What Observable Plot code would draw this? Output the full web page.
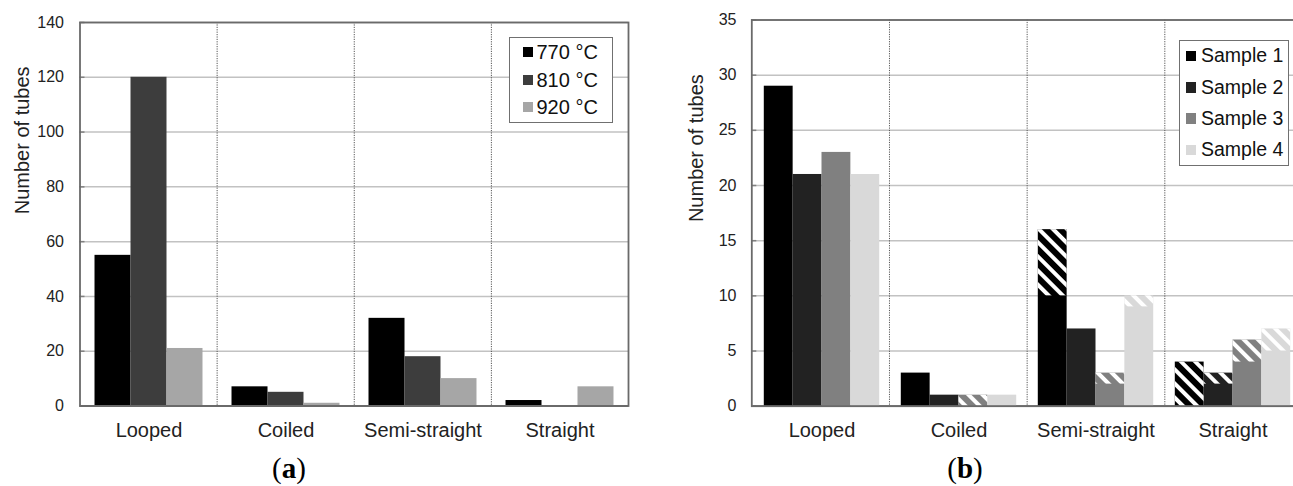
<!DOCTYPE html>
<html>
<head>
<meta charset="utf-8">
<script src="https://cdn.jsdelivr.net/npm/d3@7"></script>
<script src="https://cdn.jsdelivr.net/npm/@observablehq/plot@0.6"></script>
<style>
  html, body { margin: 0; padding: 0; background: white; }
  #page { position: relative; width: 1293px; height: 486px; overflow: hidden; background: white; font-family: "Liberation Sans", Arial, sans-serif; }
  .layer { position: absolute; top: 0; }
  .layer svg { max-width: none !important; display: block; }
  .legend { position: absolute; background: white; border: 1.5px solid #707070; box-sizing: border-box; color: #111; }
  .legend .item { position: absolute; white-space: nowrap; }
  .legend .sw { position: absolute; }
  .caption { position: absolute; font-family: "Liberation Serif", "Times New Roman", serif; font-size: 29px; line-height: 1; color: #000; text-align: center; width: 80px; }
</style>
</head>
<body>
<div id="page">
  <div id="bgA" class="layer" style="left:0px"></div>
  <div id="fgA" class="layer" style="left:0px"></div>
  <div id="bgB" class="layer" style="left:650px"></div>
  <div id="fgB" class="layer" style="left:650px"></div>
</div>
<script>
// ---------- data ----------
const categories = ["Looped", "Coiled", "Semi-straight", "Straight"];

// chart (a)
const temps = ["770 °C", "810 °C", "920 °C"];
const tempColors = ["#000000", "#3d3d3d", "#a6a6a6"];
const temp770 = [55, 7, 32, 2];
const temp810 = [120, 5, 18, 0];
const temp920 = [21, 1, 10, 7];
const yTicksA = [0, 20, 40, 60, 80, 100, 120, 140];

// chart (b)
const samples = ["Sample 1", "Sample 2", "Sample 3", "Sample 4"];
const sampleColors = ["#000000", "#222222", "#808080", "#d9d9d9"];
const sample1 = [29, 3, 16, 4];
const sample2 = [21, 1, 7, 3];
const sample3 = [23, 1, 3, 6];
const sample4 = [21, 1, 10, 7];
const yTicksB = [0, 5, 10, 15, 20, 25, 30, 35];

// hatched portions in chart (b)
const hatchCategory = ["Semi-straight", "Semi-straight", "Semi-straight", "Coiled", "Straight", "Straight", "Straight", "Straight"];
const hatchSample   = ["Sample 1", "Sample 3", "Sample 4", "Sample 3", "Sample 1", "Sample 2", "Sample 3", "Sample 4"];
const hatchFrom     = [10, 2, 9, 0, 0, 2, 4, 5];
const hatchTo       = [16, 3, 10, 1, 4, 3, 6, 7];

const yTitle = "Number of tubes";
const captionA = "a";
const captionB = "b";

// ---------- tables ----------
const seriesA = [temp770, temp810, temp920];
const rowsA = [];
temps.forEach((t, i) => categories.forEach((c, j) => rowsA.push({category: c, series: t, value: seriesA[i][j]})));
const seriesB = [sample1, sample2, sample3, sample4];
const rowsB = [];
samples.forEach((s, i) => categories.forEach((c, j) => rowsB.push({category: c, series: s, value: seriesB[i][j]})));
const hatchRows = hatchCategory.map((c, i) => ({category: c, series: hatchSample[i], from: hatchFrom[i], to: hatchTo[i]}));

const FONT = "'Liberation Sans', Arial, sans-serif";

function background(opts) {
  return Plot.plot({
    width: opts.width, height: 486,
    marginLeft: opts.ml, marginRight: opts.mr, marginTop: opts.mt, marginBottom: opts.mb,
    style: {fontFamily: FONT, fontSize: "16px", color: "#222", background: "white", overflow: "visible"},
    x: {domain: [0, categories.length], axis: null},
    y: {domain: [0, opts.ymax], ticks: opts.ticks, tickSize: 0, tickPadding: opts.tickPad, label: null},
    marks: [
      Plot.ruleY(opts.ticks, {y: d => d, stroke: "#c2c2c2", strokeWidth: 1.5}),
      Plot.ruleY(opts.ticks, {y: d => d, x1: 0, x2: 0, insetRight: -5, stroke: "#808080", strokeWidth: 1.5}),
      Plot.ruleX(d3.range(1, categories.length), {x: d => d, stroke: "#555", strokeWidth: 1, strokeDasharray: "1.2,1.2"}),
      Plot.frame({stroke: "#6a6a6a", strokeWidth: 1.8}),
      Plot.text([yTitle], {text: d => d, frameAnchor: "left", dx: opts.titleDx, dy: opts.titleDy, rotate: -90, fontSize: 20, fill: "#222"})
    ]
  });
}

function foreground(opts) {
  const marks = [
    Plot.barY(opts.rows, {fx: "category", x: "series", y: "value", fill: "series"})
  ];
  if (opts.hatch) marks.push(Plot.barY(opts.hatch, {fx: "category", x: "series", y1: "from", y2: "to", fill: "url(#hatchB)"}));
  marks.push(Plot.ruleY([0], {stroke: "#6a6a6a", strokeWidth: 1.8}));
  return Plot.plot({
    width: opts.width, height: 486,
    marginLeft: opts.ml, marginRight: opts.mr, marginTop: opts.mt, marginBottom: opts.mb,
    style: {fontFamily: FONT, fontSize: "20px", color: "#222", background: "transparent", overflow: "visible"},
    fx: {domain: categories, padding: 0, axis: "bottom", tickSize: 0, tickPadding: 17, label: null},
    x: {domain: opts.series, paddingInner: 0, paddingOuter: opts.pad, round: false, axis: null},
    y: {domain: [0, opts.ymax], axis: null},
    color: {domain: opts.series, range: opts.colors},
    marks
  });
}

// ---------- chart (a) ----------
const dimA = {width: 650, ml: 79.5, mr: 22, mt: 22, mb: 80.5};
document.getElementById("bgA").appendChild(background({...dimA, ymax: 140, ticks: yTicksA, tickPad: 16, titleDx: -57.5, titleDy: 0}));
document.getElementById("fgA").appendChild(foreground({...dimA, rows: rowsA, series: temps, colors: tempColors, pad: 0.403, ymax: 140}));

// ---------- chart (b) ----------
const dimB = {width: 660, ml: 101.3, mr: 8, mt: 19.5, mb: 80.3};
document.getElementById("bgB").appendChild(background({...dimB, ymax: 35, ticks: yTicksB, tickPad: 15.3, titleDx: -55.3, titleDy: 9}));
const svgB = foreground({...dimB, rows: rowsB, hatch: hatchRows, series: samples, colors: sampleColors, pad: 0.374, ymax: 35});
document.getElementById("fgB").appendChild(svgB);

// hatch pattern
const defs = d3.select(svgB).insert("defs", ":first-child");
const pat = defs.append("pattern")
  .attr("id", "hatchB")
  .attr("patternUnits", "userSpaceOnUse")
  .attr("width", 10).attr("height", 10)
  .attr("patternTransform", "rotate(45)");
pat.append("rect").attr("x", 0).attr("y", 0).attr("width", 10).attr("height", 4).attr("fill", "white");

// ---------- legends ----------
function legend(opts) {
  const box = document.createElement("div");
  box.className = "legend";
  Object.assign(box.style, {left: opts.left + "px", top: opts.top + "px", width: opts.w + "px", height: opts.h + "px"});
  opts.names.forEach((name, i) => {
    const cy = opts.first + i * opts.step;
    const sw = document.createElement("div");
    sw.className = "sw";
    Object.assign(sw.style, {left: opts.swx + "px", top: (cy - opts.sws / 2) + "px", width: opts.sws + "px", height: opts.sws + "px", background: opts.colors[i]});
    box.appendChild(sw);
    const it = document.createElement("div");
    it.className = "item";
    it.textContent = name;
    Object.assign(it.style, {left: opts.tx + "px", top: (cy - opts.fs / 2) + "px", fontSize: opts.fs + "px", lineHeight: opts.fs + "px"});
    box.appendChild(it);
  });
  document.getElementById("page").appendChild(box);
}
legend({names: temps, colors: tempColors, left: 509, top: 36.7, w: 104, h: 86.5, first: 14.5, step: 27.5, swx: 12.5, sws: 10.3, tx: 26.5, fs: 20});
legend({names: samples, colors: sampleColors, left: 1179, top: 40, w: 109.5, h: 126, first: 15, step: 31.3, swx: 5.5, sws: 10.7, tx: 21, fs: 19.5});

// ---------- captions ----------
function caption(letter, cx) {
  const d = document.createElement("div");
  d.className = "caption";
  d.innerHTML = "(<b>" + letter + "</b>)";
  Object.assign(d.style, {left: (cx - 40) + "px", top: "453.7px"});
  document.getElementById("page").appendChild(d);
}
caption(captionA, 289);
caption(captionB, 965);
</script>
</body>
</html>
